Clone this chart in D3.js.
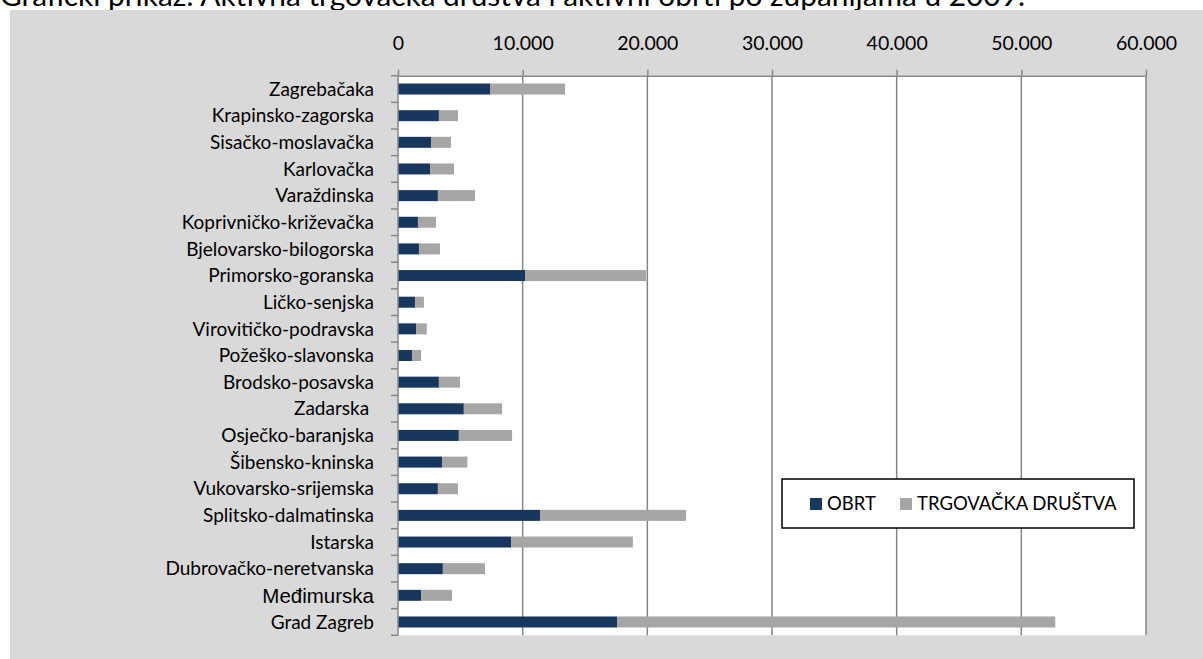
<!DOCTYPE html>
<html>
<head>
<meta charset="utf-8">
<script src="https://cdn.jsdelivr.net/npm/d3@7"></script>
<style>
  body { margin: 0; background: #fff; }
  svg { display: block; font-family: Lato, "Open Sans", sans-serif; }
</style>
</head>
<body>
<svg id="chart" width="1203" height="659"></svg>
<script>
// data
var categories = [
  "Zagrebačaka", "Krapinsko-zagorska", "Sisačko-moslavačka", "Karlovačka",
  "Varaždinska", "Koprivničko-križevačka", "Bjelovarsko-bilogorska",
  "Primorsko-goranska", "Ličko-senjska", "Virovitičko-podravska",
  "Požeško-slavonska", "Brodsko-posavska", "Zadarska ", "Osječko-baranjska",
  "Šibensko-kninska", "Vukovarsko-srijemska", "Splitsko-dalmatinska",
  "Istarska", "Dubrovačko-neretvanska", "Međimurska", "Grad Zagreb"
];
var obrt = [7380, 3280, 2650, 2570, 3200, 1600, 1680, 10190, 1360, 1450,
            1130, 3280, 5280, 4880, 3530, 3200, 11390, 9070, 3600, 1850, 17570];
var drustva = [6020, 1530, 1600, 1920, 2980, 1450, 1690, 9710, 720, 860,
               720, 1690, 3070, 4270, 2040, 1610, 11720, 9770, 3380, 2490, 35150];
var seriesNames = ["OBRT", "TRGOVAČKA DRUŠTVA"];
var seriesColors = ["#17375E", "#A6A6A6"];
var xTicks = [0, 10000, 20000, 30000, 40000, 50000, 60000];
var title = "Grafički prikaz: Aktivna trgovačka društva i aktivni obrti po županijama u 2009.";

var svg = d3.select("#chart");

// title sits behind the grey chart area, only its lower part shows
svg.append("text")
  .attr("x", 0).attr("y", 6)
  .attr("textLength", 1025)
  .attr("lengthAdjust", "spacingAndGlyphs")
  .style("font-size", "28px")
  .attr("fill", "#000")
  .text(title);

svg.append("rect")
  .attr("x", 10).attr("y", 10)
  .attr("width", 1193).attr("height", 649)
  .attr("fill", "#D9D9D9");

var x = d3.scaleLinear().domain([0, 60000]).range([398, 1146]);
var y = d3.scaleBand().domain(categories).range([75.7, 635.3]);

var hr = d3.formatLocale({decimal: ",", thousands: ".", grouping: [3], currency: ["", ""]});
var fmt = hr.format(",");

// plot area
svg.append("rect")
  .attr("x", x(0)).attr("y", y.range()[0])
  .attr("width", x(60000) - x(0))
  .attr("height", y.range()[1] - y.range()[0])
  .attr("fill", "#fff");

// vertical gridlines
svg.append("g")
  .selectAll("line")
  .data(xTicks.slice(1))
  .join("line")
  .attr("x1", function(d) { return x(d); })
  .attr("x2", function(d) { return x(d); })
  .attr("y1", y.range()[0])
  .attr("y2", y.range()[1])
  .attr("stroke", "#868686")
  .attr("stroke-width", 1.5);

// stacked bars
var rows = categories.map(function(c, i) {
  return { cat: c, OBRT: obrt[i], "TRGOVAČKA DRUŠTVA": drustva[i] };
});
var stacked = d3.stack().keys(seriesNames)(rows);
var barH = 11;

svg.append("g")
  .selectAll("g")
  .data(stacked)
  .join("g")
  .attr("fill", function(d, i) { return seriesColors[i]; })
  .selectAll("rect")
  .data(function(d) { return d; })
  .join("rect")
  .attr("x", function(d) { return x(d[0]); })
  .attr("width", function(d) { return x(d[1]) - x(d[0]); })
  .attr("y", function(d) { return y(d.data.cat) + y.bandwidth() / 2 - barH / 2; })
  .attr("height", barH);

// top axis
var xAxis = svg.append("g")
  .attr("transform", "translate(0," + y.range()[0] + ")")
  .call(d3.axisTop(x).tickValues(xTicks).tickFormat(fmt)
        .tickSize(6).tickSizeOuter(0).tickPadding(20));
xAxis.select(".domain").attr("stroke", "#868686").attr("stroke-width", 1.5);
xAxis.selectAll(".tick line").attr("stroke", "#868686").attr("stroke-width", 1.5);
xAxis.selectAll(".tick text")
  .style("font-family", "Lato, sans-serif")
  .style("font-size", "19.5px")
  .attr("fill", "#000");

// left axis: line, ticks between categories
var bounds = d3.range(categories.length + 1).map(function(i) {
  return y.range()[0] + i * y.step();
});
svg.append("line")
  .attr("x1", x(0)).attr("x2", x(0))
  .attr("y1", y.range()[0]).attr("y2", y.range()[1])
  .attr("stroke", "#868686").attr("stroke-width", 1.5);
svg.append("g")
  .selectAll("line")
  .data(bounds)
  .join("line")
  .attr("x1", x(0) - 7).attr("x2", x(0))
  .attr("y1", function(d) { return d; })
  .attr("y2", function(d) { return d; })
  .attr("stroke", "#868686").attr("stroke-width", 1.5);

svg.append("g")
  .selectAll("text")
  .data(categories)
  .join("text")
  .attr("x", 374)
  .attr("y", function(d) { return y(d) + y.bandwidth() / 2; })
  .attr("dy", "0.35em")
  .attr("text-anchor", "end")
  .style("white-space", "pre")
  .style("font-family", function(d) { return d === "Međimurska" ? "'Liberation Sans', Arial, sans-serif" : "Lato, sans-serif"; })
  .style("font-size", function(d) { return d === "Međimurska" ? "20.5px" : "19px"; })
  .attr("fill", "#000")
  .text(function(d) { return d; });

// legend
var legend = svg.append("g");
legend.append("rect")
  .attr("x", 782).attr("y", 479)
  .attr("width", 352).attr("height", 49)
  .attr("fill", "#fff")
  .attr("stroke", "#000").attr("stroke-width", 1.5);
var legendX = [810, 900];
var items = legend.selectAll("g.item")
  .data(seriesNames)
  .join("g")
  .attr("class", "item")
  .attr("transform", function(d, i) { return "translate(" + legendX[i] + ",498)"; });
items.append("rect")
  .attr("width", 12).attr("height", 12)
  .attr("fill", function(d, i) { return seriesColors[i]; });
items.append("text")
  .attr("x", 17).attr("y", 6)
  .attr("dy", "0.35em")
  .style("font-size", "18.5px")
  .attr("fill", "#000")
  .text(function(d) { return d; });
</script>
</body>
</html>
